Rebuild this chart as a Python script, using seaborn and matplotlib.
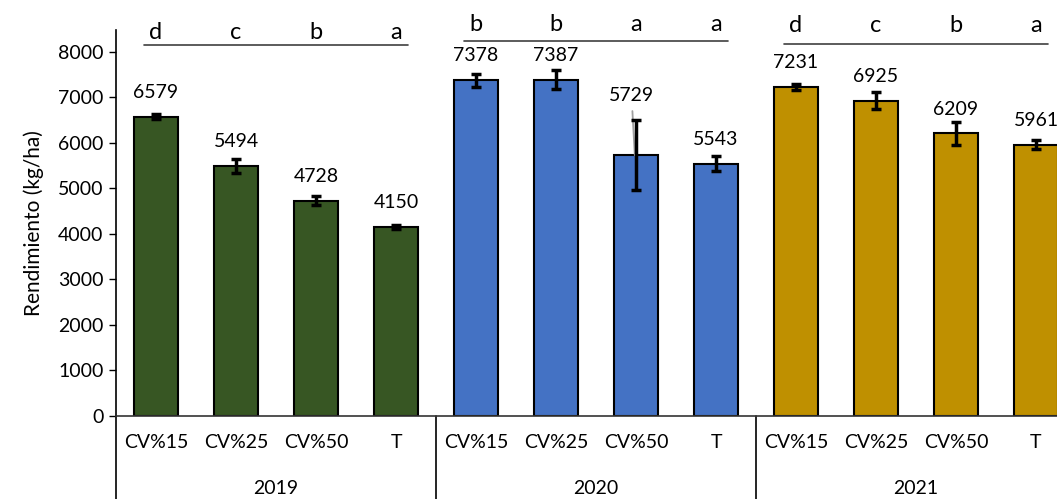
import numpy as np
import pandas as pd
import matplotlib
matplotlib.use("Agg")
import matplotlib.pyplot as plt
import matplotlib.transforms as mtransforms
import seaborn as sns

# data
years = ["2019", "2020", "2021"]
treatments = ["CV%15", "CV%25", "CV%50", "T"]
yield_2019 = [6579, 5494, 4728, 4150]
yield_2020 = [7378, 7387, 5729, 5543]
yield_2021 = [7231, 6925, 6209, 5961]
err_2019 = [60, 150, 100, 50]
err_2020 = [140, 210, 770, 170]
err_2021 = [70, 190, 260, 100]
letters_2019 = ["d", "c", "b", "a"]
letters_2020 = ["b", "b", "a", "a"]
letters_2021 = ["d", "c", "b", "a"]

colors = {"2019": "#375623", "2020": "#4472C4", "2021": "#BF9000"}

df = pd.DataFrame({
    "year": np.repeat(years, len(treatments)),
    "treat": treatments * len(years),
    "yield": yield_2019 + yield_2020 + yield_2021,
    "err": err_2019 + err_2020 + err_2021,
    "letter": letters_2019 + letters_2020 + letters_2021,
})
df["key"] = df["year"] + " " + df["treat"]

sns.set_theme(style="white")
plt.rcParams["font.family"] = ["Lato", "DejaVu Sans"]

fig = plt.figure(figsize=(10.57, 4.99), dpi=100)
ax = fig.add_axes([116 / 1057, 83 / 499, 960 / 1057, 386 / 499])

sns.barplot(data=df, x="key", y="yield", hue="year", palette=colors,
            saturation=1, dodge=False, width=0.54, edgecolor="black",
            linewidth=1.5, legend=False, ax=ax)

xs = np.arange(len(df))
ax.errorbar(xs, df["yield"], yerr=df["err"], fmt="none", ecolor="black",
            elinewidth=2.5, capsize=3.6, capthick=2.5, zorder=5)

# value labels
for x, v, e in zip(xs, df["yield"], df["err"]):
    if e > 500:
        # label moved above the long error bar, with a grey leader line
        top = v + e
        ax.annotate(f"{v}", (x, top), xytext=(-3, 18), textcoords="offset points",
                    ha="center", va="center", fontsize=14, color="black")
        ax.plot([x - 0.045, x - 0.015], [top + 200, v], color="#A0A0A0",
                lw=1.3, zorder=4)
    else:
        ax.annotate(f"{v}", (x, v), xytext=(0, 17.5), textcoords="offset points",
                    ha="center", va="center", fontsize=14, color="black")

# significance letters with line per year
letter_y = {"2019": 8280, "2020": 8450, "2021": 8440}
line_y = {"2019": 8150, "2020": 8235, "2021": 8170}
for i, yr in enumerate(years):
    sub = df[df["year"] == yr]
    idx = sub.index.to_numpy()
    for x, lt in zip(idx, sub["letter"]):
        ax.text(x, letter_y[yr], lt, ha="center", va="baseline", fontsize=17,
                color="black", clip_on=False)
    ax.plot([idx[0] - 0.15, idx[-1] + 0.15], [line_y[yr]] * 2, color="#404040",
            lw=1.2, clip_on=False)

ax.set_ylim(0, 8480)
ax.set_xlim(-0.5, len(df) - 0.5)
ax.set_yticks(np.arange(0, 8001, 1000))
ax.tick_params(axis="y", labelsize=14, length=5, width=1, color="black",
               direction="out", left=True, pad=4, labelcolor="black")
ax.set_xticks(xs)
ax.set_xticklabels(df["treat"], fontsize=14, color="black")
ax.tick_params(axis="x", length=0, pad=13)
ax.set_xlabel("")
ax.set_ylabel("Rendimiento (kg/ha)", fontsize=15, color="black", labelpad=10)

for s in ["top", "right"]:
    ax.spines[s].set_visible(False)
ax.spines["left"].set_color("black")
ax.spines["bottom"].set_color("#333333")
ax.spines["left"].set_linewidth(1.2)
ax.spines["bottom"].set_linewidth(1.2)

# multi-level category axis: separators and year labels
trans = mtransforms.blended_transform_factory(ax.transData, ax.transAxes)
for i, yr in enumerate(years):
    x0 = i * len(treatments) - 0.5
    ax.plot([x0, x0], [0, -0.25], color="black", lw=1.2, transform=trans,
            clip_on=False)
    ax.text(i * len(treatments) + (len(treatments) - 1) / 2, -0.187, yr,
            transform=trans, ha="center", va="center", fontsize=14,
            color="black")

fig.savefig("out.png", dpi=100)
